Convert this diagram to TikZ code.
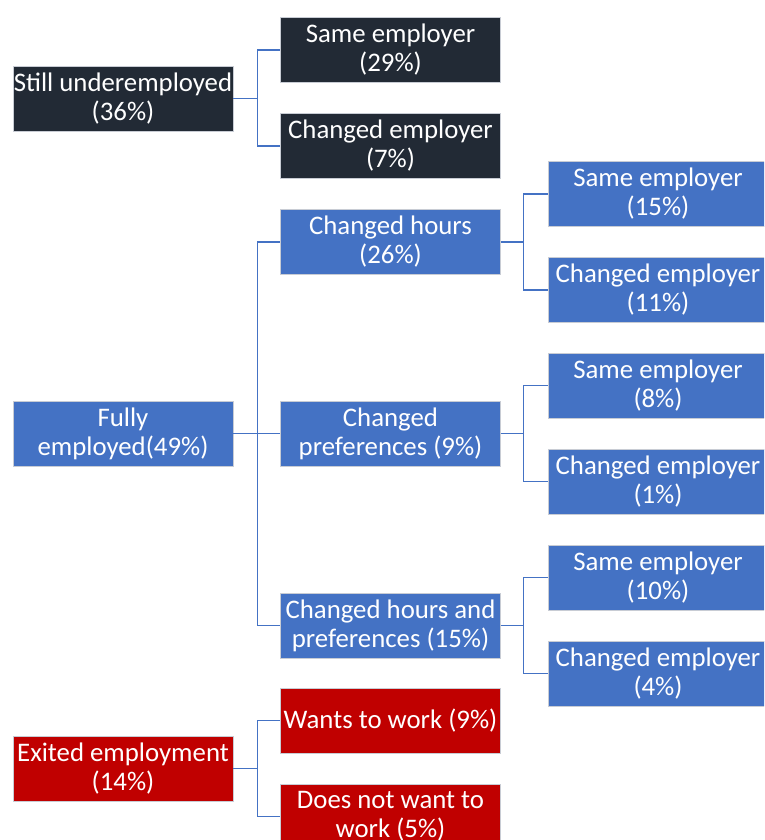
\documentclass[tikz,border=0pt]{standalone}
\usepackage{fontspec}
\setmainfont{Carlito}
\definecolor{darkbox}{HTML}{222A35}
\definecolor{bluebox}{HTML}{4472C4}
\definecolor{redbox}{HTML}{C00000}
\definecolor{edge}{HTML}{C8CCD4}
\tikzset{
  box/.style={draw=edge, line width=0.5pt, text=white, align=center,
    font=\fontsize{26.8}{29}\selectfont, inner sep=0pt,
    minimum height=65pt, minimum width=220pt},
  conn/.style={draw=bluebox, line width=1.2pt}
}
\begin{document}
\begin{tikzpicture}[x=1pt,y=-1pt]
\useasboundingbox (0,0) rectangle (764,840);
\clip (0,0) rectangle (764,840);
% left column
\node[box, fill=darkbox] (su) at (123,98.5) {Still underemployed\\(36\%)};
\node[box, fill=bluebox] (fe) at (123,433.5) {Fully\\employed(49\%)};
\node[box, fill=redbox] (ex) at (123,768.5) {Exited employment\\(14\%)};
% middle column
\node[box, fill=darkbox] (se29) at (390.5,50) {Same employer\\(29\%)};
\node[box, fill=darkbox] (ce7) at (390.5,146) {Changed employer\\(7\%)};
\node[box, fill=bluebox] (ch26) at (390.5,242) {Changed hours\\(26\%)};
\node[box, fill=bluebox] (cp9) at (390.5,433.5) {Changed\\preferences (9\%)};
\node[box, fill=bluebox] (chp15) at (390.5,625.5) {Changed hours and\\preferences (15\%)};
\node[box, fill=redbox] (ww9) at (390.5,720.5) {Wants to work (9\%)};
\node[box, fill=redbox] (dn5) at (390.5,816.5) {Does not want to\\work (5\%)};
% right column
\node[box, fill=bluebox] (se15) at (658,194) {Same employer\\(15\%)};
\node[box, fill=bluebox] (ce11) at (658,290) {Changed employer\\(11\%)};
\node[box, fill=bluebox] (se8) at (658,385.5) {Same employer\\(8\%)};
\node[box, fill=bluebox] (ce1) at (658,481.5) {Changed employer\\(1\%)};
\node[box, fill=bluebox] (se10) at (658,577.5) {Same employer\\(10\%)};
\node[box, fill=bluebox] (ce4) at (658,673.5) {Changed employer\\(4\%)};
% connectors
\foreach \p/\c in {su/se29, su/ce7, fe/ch26, fe/cp9, fe/chp15, ex/ww9, ex/dn5}
  \draw[conn] (\p.east) -- ++(24,0) |- (\c.west);
\foreach \p/\c in {ch26/se15, ch26/ce11, cp9/se8, cp9/ce1, chp15/se10, chp15/ce4}
  \draw[conn] (\p.east) -- ++(23,0) |- (\c.west);
\end{tikzpicture}
\end{document}
